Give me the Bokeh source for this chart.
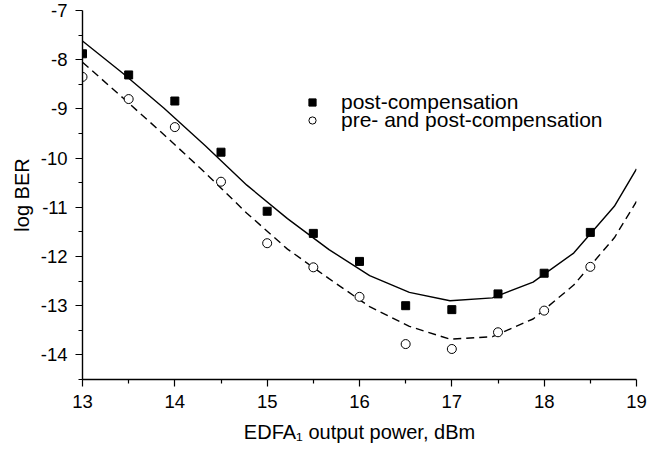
from bokeh.plotting import figure
from bokeh.models import Range1d, FixedTicker, PrintfTickFormatter, Legend, LegendItem
from bokeh.embed import file_html
from bokeh.resources import INLINE

# measured points
x_pts = [13.0, 13.5, 14.0, 14.5, 15.0, 15.5, 16.0, 16.5, 17.0, 17.5, 18.0, 18.5]
post_comp = [-7.88, -8.31, -8.84, -9.88, -11.08, -11.53, -12.10, -13.00, -13.08, -12.76, -12.34, -11.51]
pre_post_comp = [-8.35, -8.80, -9.37, -10.48, -11.73, -12.22, -12.82, -13.78, -13.88, -13.54, -13.10, -12.21]

# fitted curves
fit_x = [13.0, 13.44, 13.88, 14.33, 14.78, 15.22, 15.67, 16.11, 16.54, 16.98, 17.44, 17.88, 18.32, 18.76, 19.0]
post_fit = [-7.62, -8.28, -8.98, -9.75, -10.55, -11.23, -11.86, -12.39, -12.73, -12.90, -12.84, -12.52, -11.93, -10.98, -10.22]
pre_post_fit = [-8.05, -8.78, -9.52, -10.30, -11.12, -11.85, -12.45, -13.02, -13.42, -13.68, -13.63, -13.27, -12.58, -11.62, -10.88]

x_ticks = [13, 14, 15, 16, 17, 18, 19]
x_minor = [13.5, 14.5, 15.5, 16.5, 17.5, 18.5]
y_ticks = [-14, -13, -12, -11, -10, -9, -8, -7]
y_minor = [-14.5, -13.5, -12.5, -11.5, -10.5, -9.5, -8.5, -7.5]

FONT = "Liberation Sans"

p = figure(width=660, height=448, output_backend="svg", toolbar_location=None,
           x_range=Range1d(13, 19), y_range=Range1d(-14.5, -7),
           min_border_left=82, min_border_right=24, min_border_top=10, min_border_bottom=69)
p.outline_line_color = None
p.xgrid.visible = False
p.ygrid.visible = False
p.background_fill_color = "white"

l1 = p.line(fit_x, post_fit, line_color="black", line_width=1.4)
l2 = p.line(fit_x, pre_post_fit, line_color="black", line_width=1.4, line_dash="8 5")
s1 = p.scatter(x_pts, post_comp, marker="square", size=8, fill_color="black", line_color="black")
s2 = p.scatter(x_pts, pre_post_comp, marker="circle", size=9, fill_color="white", line_color="black", line_width=1)

for ax, ticks, minor in ((p.xaxis[0], x_ticks, x_minor), (p.yaxis[0], y_ticks, y_minor)):
    ax.ticker = FixedTicker(ticks=ticks, minor_ticks=minor)
    ax.formatter = PrintfTickFormatter(format="%d")
    ax.axis_line_color = "black"
    ax.axis_line_width = 1.4
    ax.major_tick_line_color = "black"
    ax.minor_tick_line_color = "black"
    ax.major_tick_line_width = 1.2
    ax.minor_tick_line_width = 1.2
    ax.major_tick_in = 0
    ax.major_tick_out = 7
    ax.minor_tick_in = 0
    ax.minor_tick_out = 4
    ax.major_label_text_font = FONT
    ax.major_label_text_font_size = "18.5px"
    ax.major_label_text_color = "black"
    ax.axis_label_text_font = FONT
    ax.axis_label_text_font_size = "20px"
    ax.axis_label_text_font_style = "normal"
    ax.axis_label_text_color = "black"

p.xaxis.axis_label = "EDFA\u2081 output power, dBm"
p.yaxis.axis_label = "log BER"
p.xaxis.major_label_standoff = 8
p.yaxis.major_label_standoff = 8
p.xaxis.axis_label_standoff = 10
p.yaxis.axis_label_standoff = 5

common = dict(orientation="vertical", border_line_color=None, background_fill_alpha=0,
              padding=0, margin=0, spacing=0,
              glyph_width=20, glyph_height=18, label_height=18, label_standoff=19,
              label_text_font=FONT, label_text_font_size="21px", label_text_color="black")
legend1 = Legend(items=[LegendItem(label="post-compensation", renderers=[s1])],
                 location=(220, 265), **common)
legend2 = Legend(items=[LegendItem(label="pre- and post-compensation", renderers=[s2])],
                 location=(220, 247), **common)
p.add_layout(legend1)
p.add_layout(legend2)

open("out.html", "w").write(file_html(p, INLINE))
